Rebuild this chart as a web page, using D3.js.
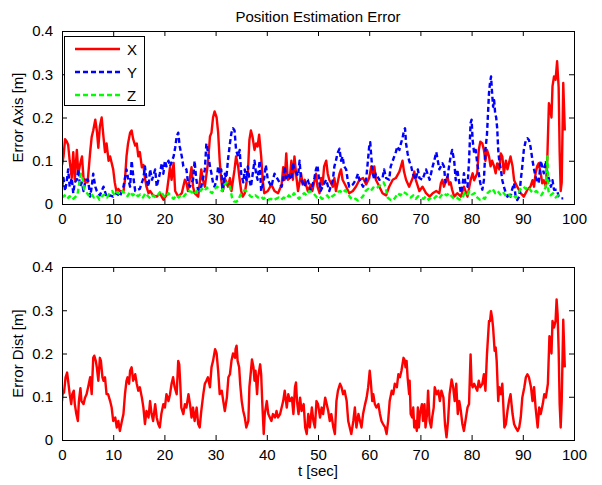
<!DOCTYPE html>
<html lang="en">
<head>
<meta charset="UTF-8">
<title>Position Estimation Error</title>
<script src="https://d3js.org/d3.v7.min.js"></script>
<style>
  body { margin: 0; background: #fff; }
  svg text { font-family: "Liberation Sans", Arial, Helvetica, sans-serif; font-size: 15px; fill: #000; }
  .frame { fill: none; stroke: #000; stroke-width: 1; }
  .tick line { stroke: #000; }
</style>
</head>
<body>
<div id="chart"></div>
<script>
// ---- data: [t (sec), error (m)] ----
const errX = [
  [0,0.09],[0.3,0.11],[0.6,0.15],[0.9,0.145],[1.2,0.137],[1.5,0.1],[1.9,0.06],[2.2,0.12],[2.5,0.056],[2.9,0.125],
  [3.2,0.07],[3.5,0.09],[3.9,0.11],[4.2,0.06],[4.6,0.05],[5.0,0.05],[5.5,0.12],[5.8,0.155],[6.1,0.17],[6.5,0.195],
  [6.8,0.17],[7.1,0.13],[7.4,0.18],[7.75,0.2],[8.1,0.155],[8.4,0.12],[8.7,0.14],[9.1,0.1],[9.4,0.11],[10,0.08],
  [10.3,0.05],[10.7,0.025],[11,0.035],[11.3,0.03],[12,0.028],[12.3,0.056],[12.6,0.11],[12.9,0.14],[13.3,0.165],[13.6,0.17],
  [13.9,0.15],[14.3,0.135],[14.6,0.14],[14.9,0.11],[15.2,0.12],[15.6,0.085],[15.9,0.09],[16.2,0.06],[16.5,0.04],[16.9,0.025],
  [17.2,0.03],[17.8,0.02],[18.5,0.017],[19.1,0.025],[19.8,0.01],[20.4,0.02],[21.1,0.085],[21.4,0.056],[21.8,0.095],[22.1,0.03],
  [22.7,0.017],[23.4,0.025],[24,0.056],[24.3,0.05],[24.6,0.03],[25.3,0.085],[25.6,0.04],[25.9,0.025],[26.6,0.017],[27.2,0.08],
  [27.5,0.056],[27.9,0.04],[28.5,0.094],[28.9,0.156],[29.2,0.165],[29.5,0.2],[29.8,0.214],[30.2,0.2],[30.5,0.165],[30.8,0.1],
  [31.1,0.056],[31.4,0.03],[31.8,0.06],[32.4,0.04],[32.8,0.06],[33.1,0.03],[33.7,0.08],[34.0,0.11],[34.4,0.087],[34.7,0.056],
  [35,0.03],[35.3,0.017],[35.7,0.025],[36.3,0.07],[36.6,0.148],[36.9,0.17],[37.2,0.156],[37.6,0.125],[37.9,0.14],[38.2,0.133],
  [38.5,0.16],[38.9,0.11],[39.2,0.056],[39.5,0.025],[40.2,0.03],[40.9,0.045],[41.5,0.03],[42.2,0.025],[42.9,0.045],[43.2,0.085],
  [43.5,0.056],[43.8,0.117],[44.1,0.056],[44.5,0.06],[44.8,0.1],[45.1,0.056],[45.4,0.11],[45.8,0.06],[46.1,0.03],[46.7,0.07],
  [47.0,0.045],[47.4,0.056],[48,0.03],[48.6,0.045],[48.9,0.03],[49.6,0.07],[49.9,0.04],[50.3,0.025],[50.6,0.06],[50.9,0.045],
  [51.2,0.087],[51.6,0.1],[51.9,0.07],[52.2,0.056],[52.9,0.04],[53.2,0.06],[53.5,0.03],[54.2,0.07],[54.5,0.08],[54.8,0.056],
  [55.5,0.04],[56.1,0.025],[56.8,0.03],[57.4,0.04],[58.1,0.056],[58.8,0.06],[59.4,0.045],[60.0,0.06],[60.4,0.087],[60.7,0.07],
  [61.0,0.087],[61.3,0.056],[62,0.04],[62.6,0.025],[63.3,0.02],[63.9,0.04],[64.6,0.056],[65.2,0.06],[65.9,0.075],[66.2,0.087],
  [66.5,0.1],[66.8,0.075],[67.2,0.056],[67.8,0.04],[68.5,0.06],[68.8,0.075],[69.1,0.056],[69.8,0.03],[70.4,0.04],[71.1,0.025],
  [71.8,0.017],[72.4,0.025],[73.1,0.03],[73.7,0.025],[74.0,0.048],[74.3,0.056],[74.6,0.04],[75.3,0.063],[75.6,0.045],[75.9,0.05],
  [76.2,0.033],[76.6,0.017],[77.2,0.025],[77.9,0.017],[78.5,0.04],[79.2,0.017],[79.8,0.055],[80.2,0.071],[80.5,0.055],[81.1,0.071],
  [81.4,0.125],[81.7,0.144],[82.1,0.14],[82.4,0.125],[82.7,0.1],[83.0,0.125],[83.4,0.11],[83.7,0.087],[84.0,0.1],[84.4,0.087],
  [84.7,0.071],[85.0,0.094],[85.4,0.08],[85.7,0.117],[86.0,0.11],[86.3,0.071],[86.7,0.1],[87.0,0.08],[87.6,0.11],[88.0,0.087],
  [88.3,0.055],[88.9,0.04],[89.6,0.025],[90.2,0.017],[90.9,0.033],[91.5,0.04],[91.9,0.055],[92.2,0.04],[92.5,0.071],[92.8,0.087],
  [93.1,0.094],[93.5,0.071],[93.8,0.048],[94.1,0.055],[94.5,0.04],[94.8,0.11],[95.1,0.233],[95.3,0.225],[95.6,0.2],[95.8,0.272],
  [96.1,0.295],[96.4,0.287],[96.7,0.33],[97.0,0.27],[97.2,0.12],[97.4,0.03],[97.6,0.05],[97.9,0.28],[98.2,0.17]
];

const errY = [
  [0,0.04],[0.3,0.06],[0.6,0.03],[0.9,0.05],[1.2,0.08],[1.5,0.04],[1.9,0.06],[2.2,0.025],[2.5,0.05],[2.9,0.056],
  [3.2,0.08],[3.5,0.04],[3.9,0.05],[4.2,0.03],[4.6,0.056],[5.1,0.056],[5.5,0.017],[5.8,0.04],[6.1,0.07],[6.5,0.04],
  [6.8,0.03],[7.4,0.02],[8.1,0.04],[8.7,0.017],[9.4,0.02],[10,0.017],[10.7,0.025],[11.3,0.017],[12,0.04],[12.6,0.08],
  [12.9,0.06],[13.3,0.04],[13.6,0.1],[14.0,0.056],[14.3,0.03],[15.2,0.035],[15.9,0.06],[16.2,0.087],[16.5,0.056],[16.9,0.04],
  [17.2,0.08],[17.6,0.056],[18.2,0.08],[18.5,0.04],[19.1,0.07],[19.5,0.095],[19.8,0.07],[20.1,0.1],[20.4,0.087],[20.8,0.1],
  [21.1,0.087],[21.8,0.11],[22.1,0.13],[22.4,0.156],[22.7,0.165],[23.0,0.133],[23.4,0.11],[23.7,0.087],[24.3,0.08],[24.6,0.05],
  [25.0,0.04],[25.6,0.056],[25.9,0.1],[26.2,0.06],[26.6,0.03],[27.2,0.04],[27.9,0.08],[28.2,0.14],[28.5,0.12],[28.9,0.087],
  [29.2,0.07],[29.5,0.048],[29.8,0.04],[30.2,0.056],[30.5,0.087],[30.8,0.07],[31.1,0.08],[31.4,0.03],[31.8,0.07],[32.1,0.06],
  [32.4,0.1],[32.8,0.14],[33.1,0.165],[33.4,0.175],[33.7,0.17],[34.0,0.125],[34.4,0.11],[34.7,0.125],[35.0,0.07],[35.4,0.05],
  [35.7,0.08],[36.0,0.056],[36.3,0.087],[36.6,0.056],[36.9,0.04],[37.6,0.1],[37.9,0.07],[38.2,0.056],[38.6,0.1],[38.9,0.03],
  [39.2,0.045],[39.5,0.06],[39.8,0.09],[40.2,0.056],[40.9,0.04],[41.2,0.056],[41.5,0.07],[42.2,0.056],[42.9,0.04],[43.2,0.056],
  [43.5,0.087],[43.8,0.06],[44.1,0.07],[44.8,0.056],[45.1,0.095],[45.4,0.08],[46.1,0.065],[46.4,0.1],[46.7,0.056],[47.4,0.04],
  [47.7,0.056],[48,0.056],[48.6,0.03],[49.3,0.06],[49.6,0.08],[49.9,0.09],[50.2,0.056],[50.5,0.03],[50.9,0.04],[51.6,0.056],
  [52.2,0.03],[52.9,0.056],[53.2,0.087],[53.5,0.1],[53.8,0.117],[54.2,0.128],[54.5,0.1],[54.8,0.11],[55.1,0.087],[55.5,0.08],
  [55.8,0.056],[56.1,0.04],[56.8,0.045],[57.4,0.056],[57.8,0.07],[58.1,0.056],[58.8,0.04],[59.4,0.056],[59.7,0.094],[60.0,0.133],
  [60.2,0.143],[60.4,0.11],[60.7,0.07],[61.0,0.056],[61.3,0.07],[62.0,0.056],[62.6,0.06],[62.9,0.08],[63.3,0.06],[63.9,0.056],
  [64.2,0.087],[64.6,0.1],[64.9,0.11],[65.2,0.12],[65.5,0.133],[65.9,0.125],[66.2,0.14],[66.5,0.152],[66.8,0.17],[67.0,0.175],
  [67.2,0.14],[67.5,0.117],[67.8,0.1],[68.2,0.087],[68.5,0.07],[69.1,0.056],[69.5,0.08],[69.8,0.06],[70.4,0.056],[71.1,0.08],
  [71.8,0.056],[72.4,0.087],[72.7,0.1],[73.1,0.12],[73.4,0.1],[73.7,0.08],[74.3,0.094],[74.6,0.087],[74.9,0.05],[75.3,0.063],
  [75.6,0.087],[75.9,0.11],[76.2,0.125],[76.6,0.1],[76.9,0.055],[77.2,0.08],[77.6,0.048],[77.9,0.025],[78.2,0.04],[78.5,0.071],
  [78.8,0.048],[79.2,0.04],[79.5,0.1],[79.8,0.187],[80.0,0.195],[80.2,0.148],[80.5,0.117],[80.8,0.125],[81.1,0.094],[81.4,0.071],
  [81.7,0.048],[82.1,0.033],[82.4,0.055],[82.7,0.125],[83.0,0.16],[83.4,0.257],[83.6,0.28],[83.8,0.295],[84.0,0.257],[84.2,0.225],
  [84.4,0.24],[84.6,0.21],[84.8,0.2],[85.0,0.175],[85.2,0.125],[85.4,0.1],[85.7,0.08],[86.0,0.055],[86.3,0.04],[86.7,0.025],
  [87.0,0.017],[87.3,0.025],[87.6,0.017],[87.9,0.033],[88.3,0.048],[88.6,0.017],[88.9,0.009],[89.3,0.017],[89.6,0.055],[89.9,0.087],
  [90.2,0.125],[90.6,0.148],[90.9,0.152],[91.2,0.148],[91.5,0.133],[91.9,0.1],[92.2,0.08],[92.5,0.063],[92.8,0.055],[93.1,0.048],
  [93.5,0.1],[93.8,0.087],[94.1,0.071],[94.5,0.1],[94.8,0.071],[95.5,0.04],[95.8,0.055],[96.1,0.033],[96.7,0.033],[97.0,0.017],
  [97.4,0.013],[97.9,0.013]
];

const errZ = [
  [0,0.015],[0.5,0.02],[1,0.012],[1.5,0.018],[2,0.01],[2.5,0.015],[3,0.02],[3.4,0.05],[3.7,0.07],[4.0,0.06],
  [4.3,0.035],[4.7,0.028],[5.2,0.02],[5.7,0.025],[6.2,0.015],[6.8,0.02],[7.3,0.01],[7.8,0.018],[8.3,0.022],[8.8,0.015],
  [9.3,0.025],[9.8,0.03],[10.3,0.02],[10.8,0.028],[11.3,0.022],[11.8,0.03],[12.3,0.025],[12.8,0.018],[13.3,0.028],[13.8,0.02],
  [14.3,0.025],[14.8,0.018],[15.3,0.022],[15.8,0.015],[16.3,0.025],[16.8,0.018],[17.3,0.012],[17.8,0.02],[18.3,0.015],[18.8,0.022],
  [19.3,0.03],[19.8,0.02],[20.3,0.015],[20.8,0.025],[21.3,0.018],[21.8,0.012],[22.3,0.02],[22.8,0.015],[23.3,0.022],[23.8,0.018],
  [24.3,0.025],[24.8,0.03],[25.3,0.028],[25.8,0.022],[26.3,0.03],[26.8,0.025],[27.3,0.035],[27.8,0.03],[28.3,0.038],[28.8,0.03],
  [29.3,0.025],[29.8,0.035],[30.3,0.04],[30.8,0.035],[31.3,0.03],[31.8,0.045],[32.3,0.05],[32.8,0.04],[33.2,0.015],[33.6,0.006],
  [34.0,0.005],[34.4,0.008],[34.8,0.02],[35.3,0.03],[35.8,0.032],[36.3,0.025],[36.8,0.018],[37.3,0.015],[37.8,0.02],[38.3,0.015],
  [38.8,0.018],[39.3,0.012],[39.8,0.015],[40.3,0.01],[40.8,0.012],[41.3,0.008],[41.8,0.012],[42.3,0.015],[42.8,0.01],[43.3,0.015],
  [43.8,0.012],[44.3,0.02],[44.8,0.015],[45.3,0.025],[45.8,0.018],[46.3,0.012],[46.8,0.02],[47.3,0.025],[47.8,0.02],[48.3,0.03],
  [48.8,0.028],[49.3,0.022],[49.8,0.015],[50.3,0.018],[50.8,0.012],[51.3,0.015],[51.8,0.02],[52.3,0.012],[52.8,0.018],[53.3,0.022],
  [53.8,0.028],[54.3,0.03],[54.8,0.025],[55.3,0.032],[55.8,0.025],[56.3,0.015],[56.8,0.01],[57.3,0.012],[57.8,0.008],[58.3,0.012],
  [58.8,0.018],[59.3,0.03],[59.8,0.035],[60.3,0.03],[60.8,0.038],[61.3,0.035],[61.8,0.04],[62.3,0.045],[62.8,0.05],[63.2,0.04],
  [63.6,0.015],[64.1,0.01],[64.6,0.008],[65.1,0.015],[65.6,0.025],[66.1,0.02],[66.6,0.028],[67.1,0.025],[67.6,0.02],[68.1,0.015],
  [68.6,0.02],[69.1,0.012],[69.6,0.018],[70.1,0.015],[70.6,0.012],[71.1,0.018],[71.6,0.01],[72.1,0.015],[72.6,0.012],[73.1,0.018],
  [73.6,0.012],[74.1,0.02],[74.6,0.025],[75.1,0.02],[75.6,0.025],[76.1,0.018],[76.6,0.012],[77.1,0.015],[77.6,0.01],[78.1,0.012],
  [78.6,0.025],[79.1,0.02],[79.6,0.03],[80.1,0.022],[80.6,0.025],[81.1,0.015],[81.6,0.01],[82.1,0.015],[82.6,0.012],[83.1,0.025],
  [83.6,0.03],[84.1,0.035],[84.6,0.025],[85.1,0.03],[85.6,0.022],[86.1,0.028],[86.6,0.02],[87.1,0.025],[87.6,0.018],[88.1,0.022],
  [88.6,0.015],[89.1,0.025],[89.6,0.035],[90.1,0.04],[90.6,0.035],[91.1,0.04],[91.6,0.03],[92.1,0.025],[92.6,0.03],[93.1,0.025],
  [93.6,0.02],[94.1,0.03],[94.5,0.04],[94.8,0.11],[95.0,0.03],[95.4,0.02],[95.9,0.025],[96.4,0.015],[96.9,0.02],[97.4,0.015]
];

const errDist = [
  [0,0.09],[0.1,0.106],[0.4,0.11],[0.7,0.145],[1.0,0.156],[1.2,0.137],[1.5,0.106],[1.8,0.083],[2.0,0.106],[2.3,0.114],
  [2.5,0.083],[2.8,0.06],[3.1,0.044],[3.3,0.09],[3.6,0.12],[3.8,0.09],[4.2,0.083],[4.5,0.098],[4.8,0.106],[5.1,0.122],
  [5.5,0.145],[5.8,0.106],[6.1,0.19],[6.3,0.195],[6.6,0.183],[6.8,0.168],[7.1,0.137],[7.4,0.19],[7.6,0.183],[7.9,0.145],
  [8.1,0.137],[8.4,0.145],[8.7,0.106],[9.0,0.106],[9.4,0.09],[9.7,0.075],[10.0,0.044],[10.4,0.052],[10.7,0.029],[11.0,0.044],
  [11.3,0.021],[11.7,0.044],[12.0,0.06],[12.3,0.106],[12.6,0.137],[12.8,0.145],[13.1,0.13],[13.3,0.16],[13.6,0.168],[13.9,0.137],
  [14.3,0.152],[14.6,0.13],[14.9,0.114],[15.2,0.122],[15.6,0.098],[15.9,0.075],[16.2,0.037],[16.5,0.067],[16.9,0.052],[17.2,0.09],
  [17.5,0.06],[17.8,0.044],[18.2,0.083],[18.5,0.052],[18.8,0.037],[19.1,0.029],[19.4,0.06],[19.8,0.083],[20.1,0.075],[20.4,0.106],
  [20.8,0.09],[21.1,0.106],[21.4,0.13],[21.7,0.145],[22.0,0.122],[22.4,0.106],[22.7,0.183],[22.9,0.175],[23.1,0.13],[23.3,0.075],
  [23.7,0.06],[24.0,0.083],[24.3,0.075],[24.7,0.106],[25.0,0.083],[25.3,0.052],[25.6,0.075],[25.9,0.044],[26.3,0.075],[26.6,0.037],
  [26.9,0.029],[27.2,0.067],[27.6,0.106],[27.9,0.13],[28.2,0.137],[28.5,0.145],[28.9,0.122],[29.2,0.168],[29.5,0.183],[29.9,0.21],
  [30.2,0.2],[30.5,0.16],[30.8,0.106],[31.2,0.114],[31.5,0.09],[31.8,0.067],[32.2,0.098],[32.5,0.145],[32.8,0.152],[33.1,0.183],
  [33.4,0.2],[33.8,0.19],[33.9,0.21],[34.1,0.218],[34.3,0.183],[34.6,0.168],[34.8,0.13],[35.1,0.09],[35.4,0.067],[35.7,0.052],
  [36.0,0.029],[36.4,0.044],[36.6,0.122],[36.9,0.16],[37.1,0.186],[37.4,0.168],[37.6,0.137],[37.8,0.16],[38.1,0.106],[38.3,0.145],
  [38.7,0.175],[38.9,0.152],[39.1,0.09],[39.4,0.014],[39.6,0.06],[40.0,0.09],[40.3,0.06],[40.6,0.052],[40.9,0.044],[41.2,0.06],
  [41.6,0.052],[41.9,0.067],[42.2,0.052],[42.6,0.06],[42.9,0.075],[43.2,0.09],[43.5,0.114],[43.9,0.075],[44.2,0.106],[44.5,0.09],
  [44.9,0.098],[45.2,0.06],[45.5,0.122],[45.7,0.133],[45.9,0.09],[46.2,0.06],[46.5,0.098],[46.8,0.067],[47.2,0.083],[47.5,0.029],
  [47.8,0.014],[48.1,0.06],[48.4,0.029],[48.8,0.075],[49.1,0.044],[49.4,0.029],[49.7,0.09],[50.0,0.083],[50.4,0.052],[50.7,0.075],
  [51.0,0.06],[51.4,0.098],[51.7,0.083],[52.0,0.067],[52.3,0.044],[52.6,0.06],[53.0,0.029],[53.3,0.014],[53.6,0.09],[53.9,0.114],
  [54.3,0.13],[54.6,0.122],[54.9,0.106],[55.2,0.114],[55.6,0.09],[55.9,0.044],[56.2,0.029],[56.5,0.014],[56.9,0.044],[57.2,0.075],
  [57.5,0.029],[57.9,0.06],[58.2,0.044],[58.5,0.029],[58.8,0.06],[59.2,0.083],[59.5,0.098],[59.8,0.122],[60.1,0.16],[60.3,0.137],
  [60.6,0.09],[60.8,0.106],[61.1,0.083],[61.4,0.075],[61.8,0.083],[62.1,0.06],[62.4,0.044],[62.7,0.037],[63.1,0.029],[63.4,0.014],
  [63.7,0.044],[64.0,0.09],[64.4,0.114],[64.7,0.106],[65.0,0.13],[65.4,0.122],[65.7,0.152],[66.0,0.145],[66.3,0.16],[66.7,0.19],
  [66.9,0.186],[67.1,0.168],[67.3,0.183],[67.5,0.145],[67.8,0.106],[67.9,0.137],[68.1,0.06],[68.4,0.052],[68.6,0.075],[68.8,0.029],
  [69.0,0.044],[69.3,0.021],[69.5,0.075],[69.7,0.029],[69.9,0.06],[70.3,0.083],[70.5,0.044],[70.8,0.083],[71.0,0.029],[71.3,0.06],
  [71.5,0.114],[71.8,0.044],[72.1,0.029],[72.3,0.052],[72.6,0.075],[72.8,0.122],[73.2,0.106],[73.5,0.114],[73.8,0.09],[74.1,0.114],
  [74.5,0.098],[74.8,0.037],[75.1,0.006],[75.4,0.044],[75.7,0.106],[76.1,0.14],[76.4,0.122],[76.7,0.09],[77.0,0.13],[77.3,0.06],
  [77.6,0.09],[77.9,0.067],[78.2,0.037],[78.5,0.021],[78.9,0.052],[79.2,0.075],[79.5,0.083],[79.8,0.198],[80.0,0.13],[80.2,0.122],
  [80.5,0.13],[80.8,0.122],[81.1,0.114],[81.4,0.137],[81.7,0.122],[82.1,0.13],[82.4,0.152],[82.7,0.114],[83.0,0.198],[83.4,0.275],
  [83.6,0.275],[83.8,0.298],[84.0,0.283],[84.2,0.26],[84.5,0.206],[84.7,0.214],[84.9,0.183],[85.2,0.09],[85.4,0.122],[85.7,0.106],
  [86.0,0.13],[86.4,0.029],[86.7,0.037],[87.0,0.067],[87.3,0.09],[87.6,0.106],[88.0,0.06],[88.3,0.037],[88.6,0.029],[89.0,0.021],
  [89.3,0.029],[89.6,0.052],[89.9,0.098],[90.3,0.122],[90.6,0.145],[90.9,0.152],[91.2,0.145],[91.6,0.122],[91.9,0.09],[92.2,0.122],
  [92.5,0.075],[92.9,0.029],[93.2,0.075],[93.5,0.06],[93.9,0.083],[94.2,0.106],[94.5,0.098],[94.9,0.13],[95.2,0.24],[95.4,0.233],
  [95.6,0.2],[95.8,0.275],[96.1,0.26],[96.4,0.275],[96.6,0.325],[96.8,0.29],[97.0,0.21],[97.2,0.083],[97.4,0.029],[97.6,0.09],
  [97.9,0.278],[98.2,0.168]
];

const xTicks = [0, 10, 20, 30, 40, 50, 60, 70, 80, 90, 100];
const yTicks = [0, 0.1, 0.2, 0.3, 0.4];
const axisSeries = [
  { name: "X", data: errX, color: "#ff0000", dash: null },
  { name: "Y", data: errY, color: "#0000ff", dash: "5,3" },
  { name: "Z", data: errZ, color: "#00ff00", dash: "5,3" }
];

// ---- layout ----
const W = 602, H = 485;
const left = 62, right = 574;
const panels = [
  { top: 31, bottom: 204, label: "Error Axis [m]" },
  { top: 267, bottom: 440, label: "Error Dist [m]" }
];

const svg = d3.select("#chart").append("svg")
  .attr("width", W).attr("height", H);

const x = d3.scaleLinear().domain([0, 100]).range([left, right]);

function drawPanel(p, idx, series) {
  const y = d3.scaleLinear().domain([0, 0.4]).range([p.bottom, p.top]);
  const g = svg.append("g");

  g.append("clipPath").attr("id", "clip" + idx)
    .append("rect").attr("x", left).attr("y", p.top)
    .attr("width", right - left).attr("height", p.bottom - p.top);

  const line = d3.line().x(d => x(d[0])).y(d => y(d[1]));
  const plot = g.append("g").attr("clip-path", `url(#clip${idx})`);
  series.forEach(s => {
    plot.append("path")
      .attr("d", line(s.data))
      .attr("fill", "none")
      .attr("stroke", s.color)
      .attr("stroke-width", 2.4)
      .attr("stroke-linejoin", "round")
      .attr("stroke-dasharray", s.dash);
  });

  // ticks inside, all four sides (matlab box)
  const fmt = d => d === 0 ? "0" : d3.format(".1f")(d);
  g.append("g").attr("transform", `translate(0,${p.bottom})`)
    .call(d3.axisBottom(x).tickValues(xTicks).tickSizeInner(-5).tickSizeOuter(0).tickPadding(9))
    .call(a => a.select(".domain").remove());
  g.append("g").attr("transform", `translate(0,${p.top})`)
    .call(d3.axisTop(x).tickValues(xTicks).tickSizeInner(-5).tickSizeOuter(0).tickFormat(""))
    .call(a => a.select(".domain").remove());
  g.append("g").attr("transform", `translate(${left},0)`)
    .call(d3.axisLeft(y).tickValues(yTicks).tickFormat(fmt).tickSizeInner(-5).tickSizeOuter(0).tickPadding(9))
    .call(a => a.select(".domain").remove());
  g.append("g").attr("transform", `translate(${right},0)`)
    .call(d3.axisRight(y).tickValues(yTicks).tickSizeInner(-5).tickSizeOuter(0).tickFormat(""))
    .call(a => a.select(".domain").remove());
  g.selectAll(".tick line").attr("stroke", "#000");

  g.append("rect").attr("class", "frame")
    .attr("x", left + 0.5).attr("y", p.top + 0.5)
    .attr("width", right - left).attr("height", p.bottom - p.top);

  g.append("text")
    .attr("transform", `translate(23,${(p.top + p.bottom) / 2}) rotate(-90)`)
    .attr("text-anchor", "middle")
    .text(p.label);
  return y;
}

drawPanel(panels[0], 0, axisSeries);
drawPanel(panels[1], 1, [{ data: errDist, color: "#ff0000", dash: null }]);

svg.selectAll(".tick text").attr("font-size", null).attr("font-family", null);

// title and x label
svg.append("text").attr("x", (left + right) / 2).attr("y", 22)
  .attr("text-anchor", "middle").text("Position Estimation Error");
svg.append("text").attr("x", (left + right) / 2).attr("y", 476)
  .attr("text-anchor", "middle").text("t [sec]");

// legend
const leg = svg.append("g");
leg.append("rect").attr("x", 64.5).attr("y", 36.5).attr("width", 80).attr("height", 69)
  .attr("fill", "#fff").attr("stroke", "#000");
axisSeries.forEach((s, i) => {
  const ly = 49 + i * 23;
  leg.append("line").attr("x1", 75).attr("x2", 120).attr("y1", ly).attr("y2", ly)
    .attr("stroke", s.color).attr("stroke-width", 2.4).attr("stroke-dasharray", s.dash);
  leg.append("text").attr("x", 127).attr("y", ly + 5.5).text(s.name);
});
</script>
</body>
</html>
